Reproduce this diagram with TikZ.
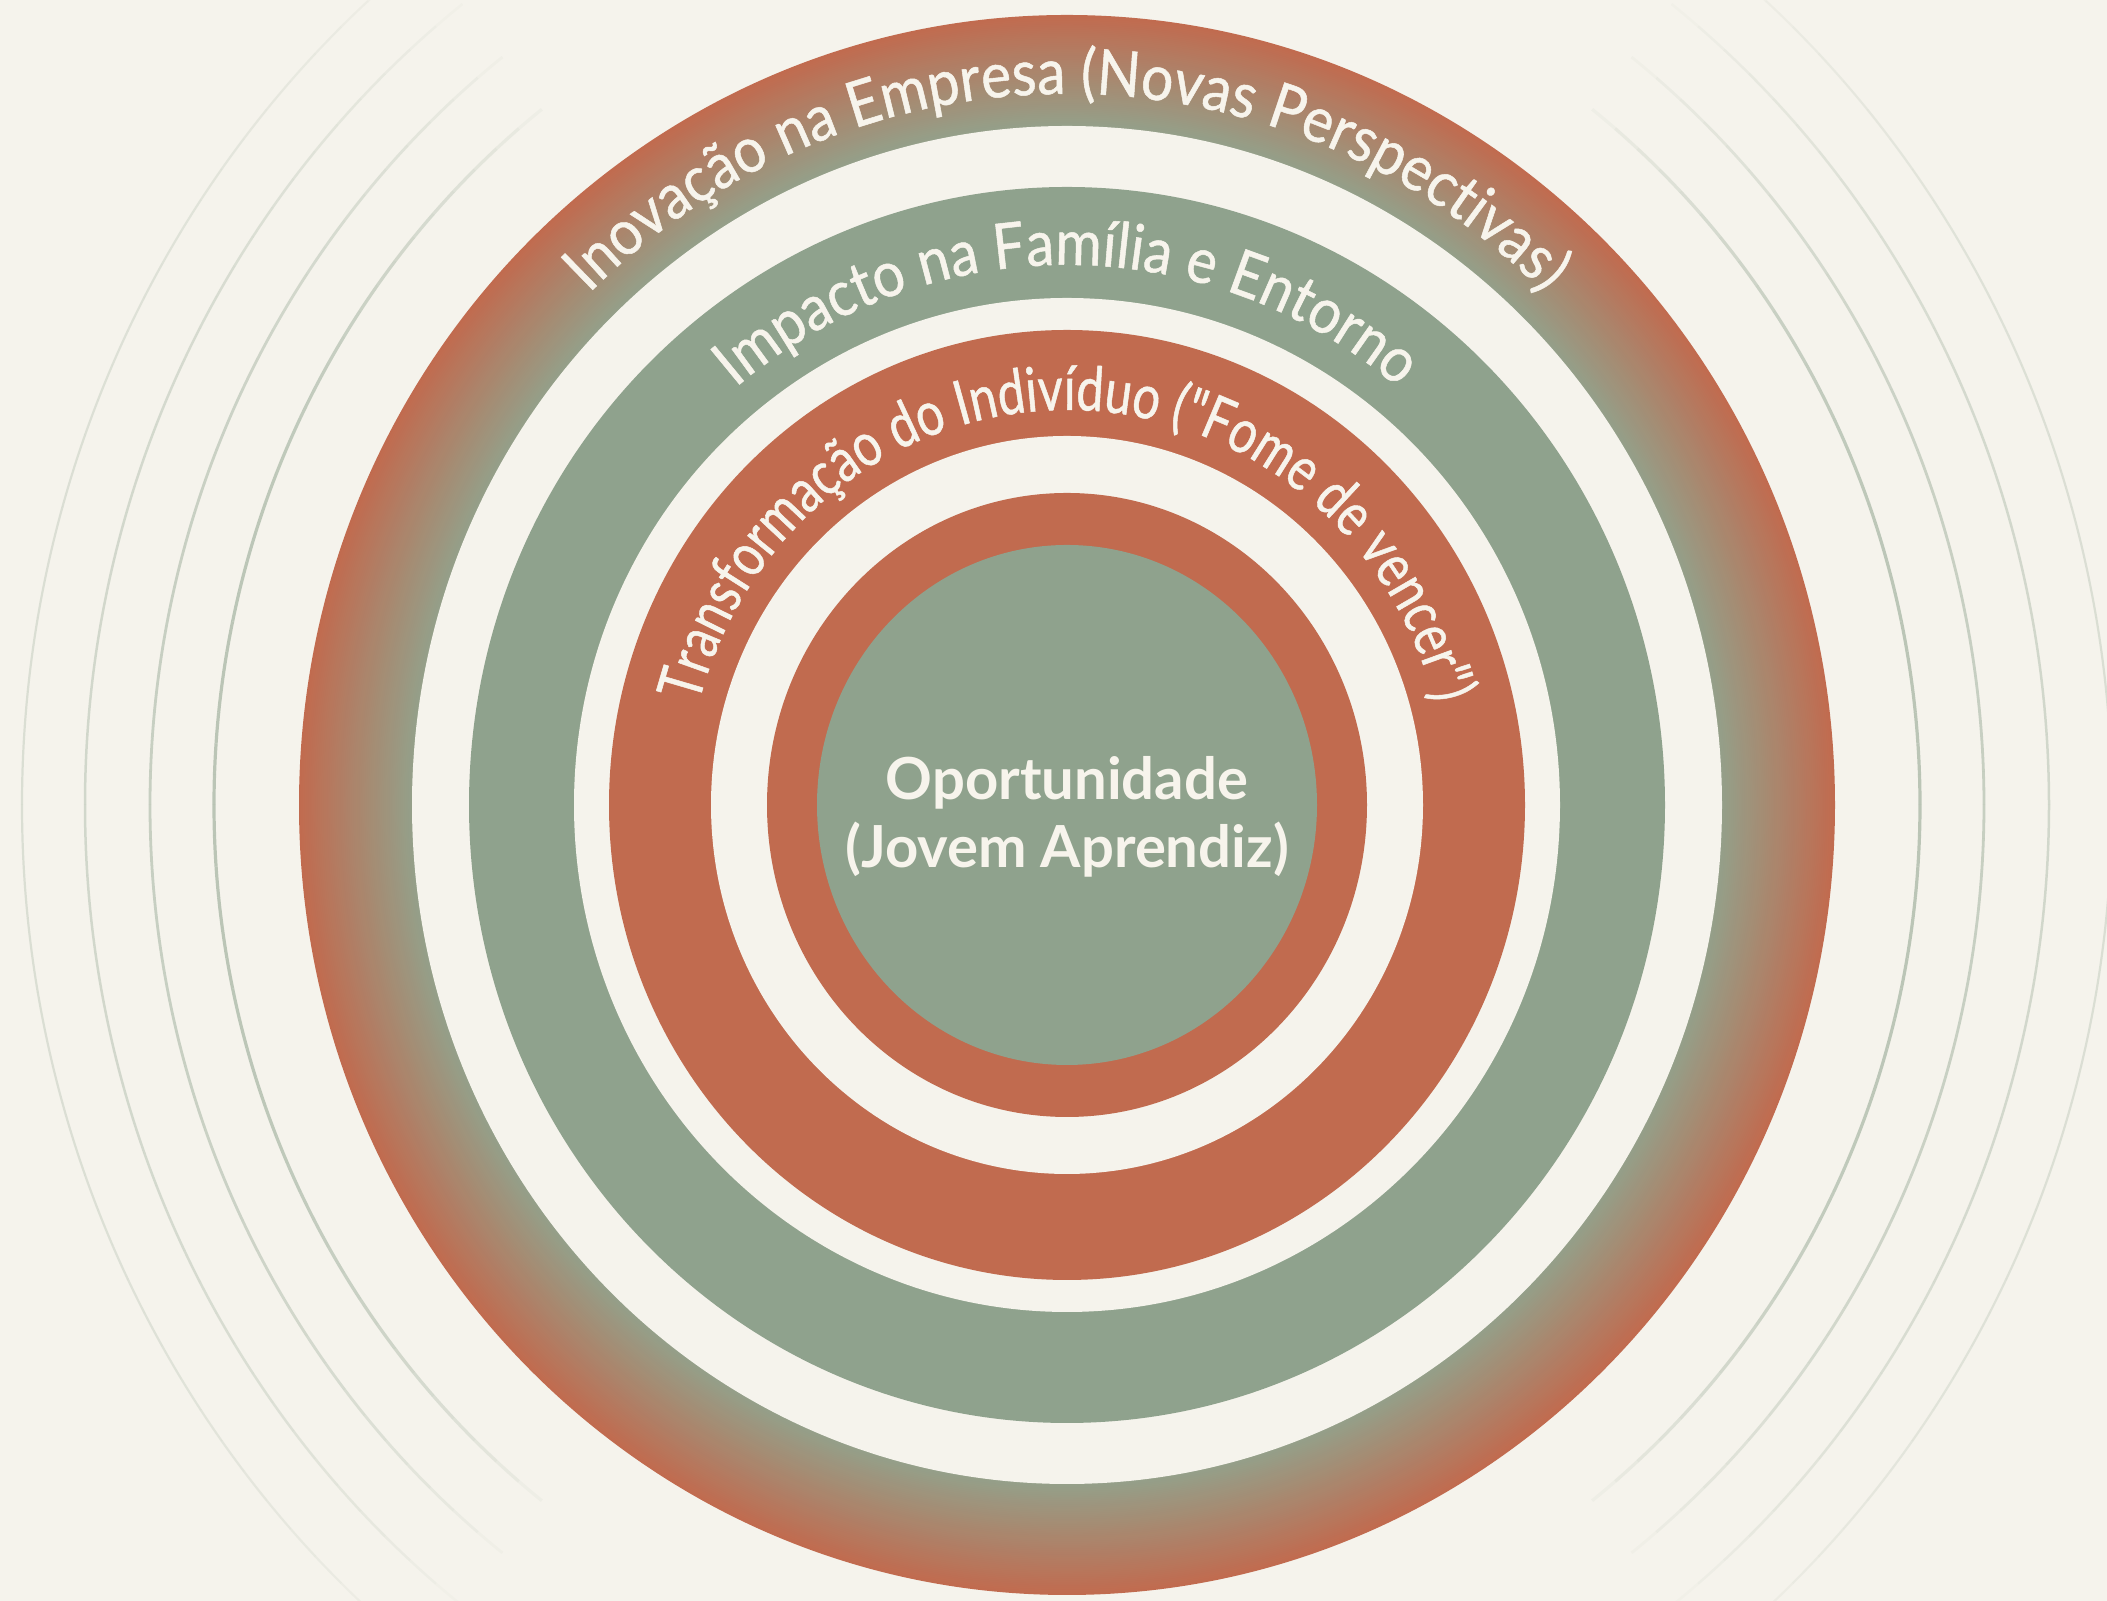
\documentclass[tikz,border=0pt]{standalone}
\usepackage{fontspec}
\setmainfont{Lato}
\newfontfamily\arcfamo{Lato}[FakeStretch=0.90, FakeBold=0.8, Ligatures=TeXOff]
\newfontfamily\arcfamg{Lato}[FakeStretch=0.89, FakeBold=0.8, Ligatures=TeXOff]
\newfontfamily\arcfamr{Lato}[FakeStretch=0.79, FakeBold=0.8, Ligatures=TeXOff]
\usetikzlibrary{decorations.text}
\definecolor{bg}{HTML}{F5F3EC}
\definecolor{terra}{HTML}{C16B4F}
\definecolor{sage}{HTML}{8FA28D}
\definecolor{sagegrey}{HTML}{94A08A}
\definecolor{ink}{HTML}{F7F4EC}
\definecolor{ripplec}{HTML}{9DAE9B}
\newcommand\arcfonto{\arcfamo\fontsize{18pt}{20pt}\selectfont}
\newcommand\arcfontg{\arcfamg\fontsize{18pt}{20pt}\selectfont}
\newcommand\arcfontr{\arcfamr\fontsize{17.5pt}{20pt}\selectfont}
\begin{document}
\begin{tikzpicture}[x=0.1mm,y=0.1mm,
  arclabel/.style={decorate, decoration={text along path, text align=center, text color=ink, text={#1}}},
  centrelabel/.style={font=\fontsize{16.5pt}{19pt}\selectfont\bfseries, text=ink, anchor=base, inner sep=0pt}]
\fill[bg] (0,0) rectangle (2107,1601);
\useasboundingbox (0,0) rectangle (2107,1601);
\coordinate (c) at (1067,796);
% ripples
\foreach \r/\b/\w in {853/0.66/3.2, 917/0.52/2.8, 982/0.40/2.5, 1045/0.30/2.2} {
  \pgfmathsetmacro\ry{\r*1.035}
  \foreach \a in {-52,-50,...,50} {
    \pgfmathsetmacro\o{\b*(1-(abs(\a+1)/53)^3)}
    \pgfmathsetmacro\e{\a+2}
    \draw[ripplec, line width=\w*0.1mm, opacity=\o] (c) ++(\a:{\r} and {\ry}) arc[start angle=\a, end angle=\e, x radius=\r, y radius=\ry];
    \pgfmathsetmacro\la{180+\a}
    \pgfmathsetmacro\le{182+\a}
    \draw[ripplec, line width=\w*0.1mm, opacity=\o] (c) ++(\la:{\r} and {\ry}) arc[start angle=\la, end angle=\le, x radius=\r, y radius=\ry];
  }
}
% outer gradient ring
\foreach \i in {0,...,60} {
  \pgfmathsetmacro\rx{768-\i*113/60}
  \pgfmathsetmacro\ryy{790-\i*111/60}
  \pgfmathsetmacro\p{\i*100/60}
  \fill[sagegrey!\p!terra] (c) ellipse[x radius=\rx, y radius=\ryy];
}
\fill[bg] (c) ellipse[x radius=655, y radius=679];
\fill[sage] (c) ellipse[x radius=598, y radius=618];
\fill[bg] (c) ellipse[x radius=493, y radius=507];
\fill[terra] (c) ellipse[x radius=458, y radius=475];
\fill[bg] (c) ellipse[x radius=356, y radius=369];
\fill[terra] (c) ellipse[x radius=300, y radius=312];
\fill[sage] (c) ellipse[x radius=250, y radius=260];
% curved labels
\path[arclabel={|\arcfonto|Inovação na Empresa (Novas Perspectivas)}] (c) ++(170:688 and 711) arc[start angle=170, end angle=10, x radius=688, y radius=711];
\path[arclabel={|\arcfontg|Impacto na Família e Entorno}] (c) ++(170:522 and 540) arc[start angle=170, end angle=10, x radius=522, y radius=540];
\path[arclabel={|\arcfontr|Transformação do Indivíduo ("Fome de vencer")}] (c) ++(185:381 and 395) arc[start angle=185, end angle=-5, x radius=381, y radius=395];
% centre
\node[centrelabel] (op1) at (1067,801) {Oportunidade};
\node[centrelabel] (op2) at (1067,733.5) {(Jovem Aprendiz)};
\end{tikzpicture}
\end{document}
